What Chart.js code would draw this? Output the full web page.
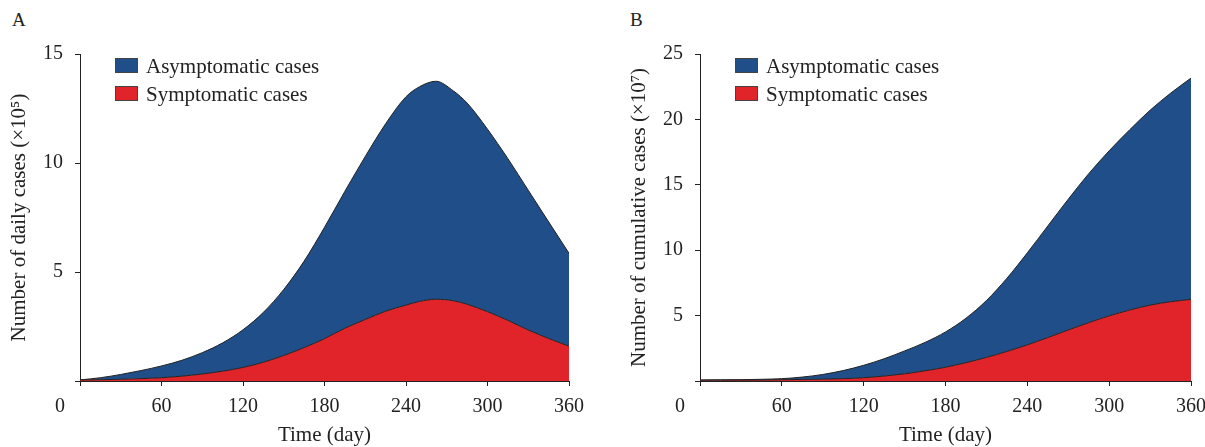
<!DOCTYPE html>
<html>
<head>
<meta charset="utf-8">
<script src="https://cdn.jsdelivr.net/npm/chart.js@4"></script>
<style>
  body { margin: 0; background: #fff; }
  #wrap { position: relative; width: 1205px; height: 447px; }
  .panel { position: absolute; top: 0; height: 447px; }
  .tag { position: absolute; top: 9px; font: 19px 'Liberation Serif', serif; color: #222; }
</style>
</head>
<body>
<div id="wrap">
  <div class="tag" style="left:12px">A</div>
  <div class="tag" style="left:630px">B</div>
  <div class="panel" style="left:0;width:600px"><canvas id="chartA"></canvas></div>
  <div class="panel" style="left:600px;width:605px"><canvas id="chartB"></canvas></div>
</div>
<script>
  const seriesNames = ['Symptomatic cases', 'Asymptomatic cases'];
  const xTicks = [0, 60, 120, 180, 240, 300, 360];

  // A: daily cases (x10^5), stacked: symptomatic at the bottom
  const daysA = [0, 15, 30, 45, 60, 75, 90, 105, 120, 135, 150, 165, 180, 195, 210, 225, 240, 250, 262, 275, 285, 300, 315, 330, 345, 360];
  const symptomaticA = [0.05, 0.06, 0.08, 0.11, 0.15, 0.22, 0.32, 0.45, 0.62, 0.86, 1.17, 1.53, 1.94, 2.42, 2.82, 3.2, 3.48, 3.65, 3.75, 3.68, 3.52, 3.18, 2.78, 2.34, 1.95, 1.6];
  const asymptomaticA = [0, 0.09, 0.22, 0.37, 0.54, 0.73, 0.98, 1.3, 1.73, 2.29, 3.03, 3.97, 5.11, 6.28, 7.48, 8.6, 9.56, 9.85, 10.0, 9.62, 9.23, 8.37, 7.42, 6.41, 5.35, 4.26];

  // B: cumulative cases (x10^7)
  const daysB = [0, 15, 30, 45, 60, 75, 90, 105, 120, 135, 150, 165, 180, 195, 210, 225, 240, 255, 270, 285, 300, 315, 330, 345, 360];
  const symptomaticB = [0.06, 0.065, 0.07, 0.08, 0.1, 0.12, 0.14, 0.18, 0.25, 0.38, 0.55, 0.78, 1.05, 1.4, 1.8, 2.26, 2.76, 3.32, 3.9, 4.46, 4.98, 5.42, 5.8, 6.06, 6.24];
  const asymptomaticB = [0.02, 0.025, 0.03, 0.05, 0.08, 0.18, 0.36, 0.62, 0.95, 1.32, 1.75, 2.17, 2.7, 3.4, 4.35, 5.59, 7.04, 8.53, 10.0, 11.39, 12.62, 13.78, 14.9, 15.94, 16.92];

  const RED = '#e0242a';
  const BLUE = '#1f4e89';
  const INK = '#222';
  const FONT = "'Liberation Serif', 'Times New Roman', serif";

  // legend inside the plot + the shared "0" at the origin
  const extras = {
    id: 'extras',
    afterDraw(chart) {
      const { ctx, chartArea } = chart;
      const xs = chart.scales.x;
      ctx.save();
      ctx.font = '20px ' + FONT;
      ctx.fillStyle = INK;
      ctx.textAlign = 'center';
      ctx.textBaseline = 'middle';
      ctx.fillText('0', xs.left - 20, xs.top + 26);

      const order = [1, 0];
      order.forEach((i, row) => {
        const ds = chart.data.datasets[i];
        const bx = chartArea.left + 35;
        const by = chartArea.top + 4 + row * 28;
        ctx.fillStyle = ds.backgroundColor;
        ctx.fillRect(bx, by, 23, 15);
        ctx.strokeStyle = '#444';
        ctx.lineWidth = 1;
        ctx.strokeRect(bx + 0.5, by + 0.5, 22, 14);
        ctx.fillStyle = INK;
        ctx.font = '21px ' + FONT;
        ctx.textAlign = 'left';
        ctx.fillText(ds.label, bx + 31, by + 9);
      });
      ctx.restore();
    }
  };

  function makeChart(id, days, symp, asym, yMax, yTitle, yWidth, titlePad, padRight) {
    const toXY = arr => arr.map((v, i) => ({ x: days[i], y: v }));
    return new Chart(document.getElementById(id), {
      type: 'line',
      data: {
        datasets: [{
          label: seriesNames[0],
          data: toXY(symp),
          backgroundColor: RED,
          borderColor: INK,
          borderWidth: 1,
          fill: 'origin',
          pointRadius: 0,
          cubicInterpolationMode: 'monotone'
        }, {
          label: seriesNames[1],
          data: toXY(asym),
          backgroundColor: BLUE,
          borderColor: INK,
          borderWidth: 1,
          fill: '-1',
          pointRadius: 0,
          cubicInterpolationMode: 'monotone'
        }]
      },
      options: {
        responsive: true,
        maintainAspectRatio: false,
        animation: false,
        layout: { padding: { top: 54, right: padRight, bottom: 0, left: 0 } },
        plugins: { legend: { display: false }, tooltip: { enabled: false } },
        scales: {
          x: {
            type: 'linear',
            min: 0,
            max: 360,
            afterBuildTicks: s => { s.ticks = xTicks.map(v => ({ value: v })); },
            afterFit: s => { s.height = 66; s.paddingLeft = 0; s.paddingRight = 0; },
            grid: { display: true, drawOnChartArea: false, tickLength: 5, color: INK },
            border: { display: true, color: INK, width: 1 },
            ticks: {
              padding: 9,
              maxRotation: 0,
              color: INK,
              font: { family: FONT, size: 20 },
              callback: v => v === 0 ? '' : v
            },
            title: {
              display: true,
              text: 'Time (day)',
              color: INK,
              font: { family: FONT, size: 21, lineHeight: 1 },
              padding: { top: 0, bottom: 1 }
            }
          },
          y: {
            stacked: true,
            min: 0,
            max: yMax,
            afterFit: s => { s.width = yWidth; },
            grid: { display: true, drawOnChartArea: false, tickLength: 5, color: INK },
            border: { display: true, color: INK, width: 1 },
            ticks: {
              stepSize: 5,
              padding: 12,
              color: INK,
              font: { family: FONT, size: 20 },
              callback: v => v === 0 ? '' : v
            },
            title: {
              display: true,
              text: yTitle,
              color: INK,
              font: { family: FONT, size: 21, lineHeight: 1.2 },
              padding: { top: titlePad, bottom: 0 }
            }
          }
        }
      },
      plugins: [extras]
    });
  }

  makeChart('chartA', daysA, symptomaticA, asymptomaticA, 15,
    'Number of daily cases (×10⁵)', 80, 7, 31);
  makeChart('chartB', daysB, symptomaticB, asymptomaticB, 25,
    'Number of cumulative cases (×10⁷)', 100, 27, 14);
</script>
</body>
</html>
